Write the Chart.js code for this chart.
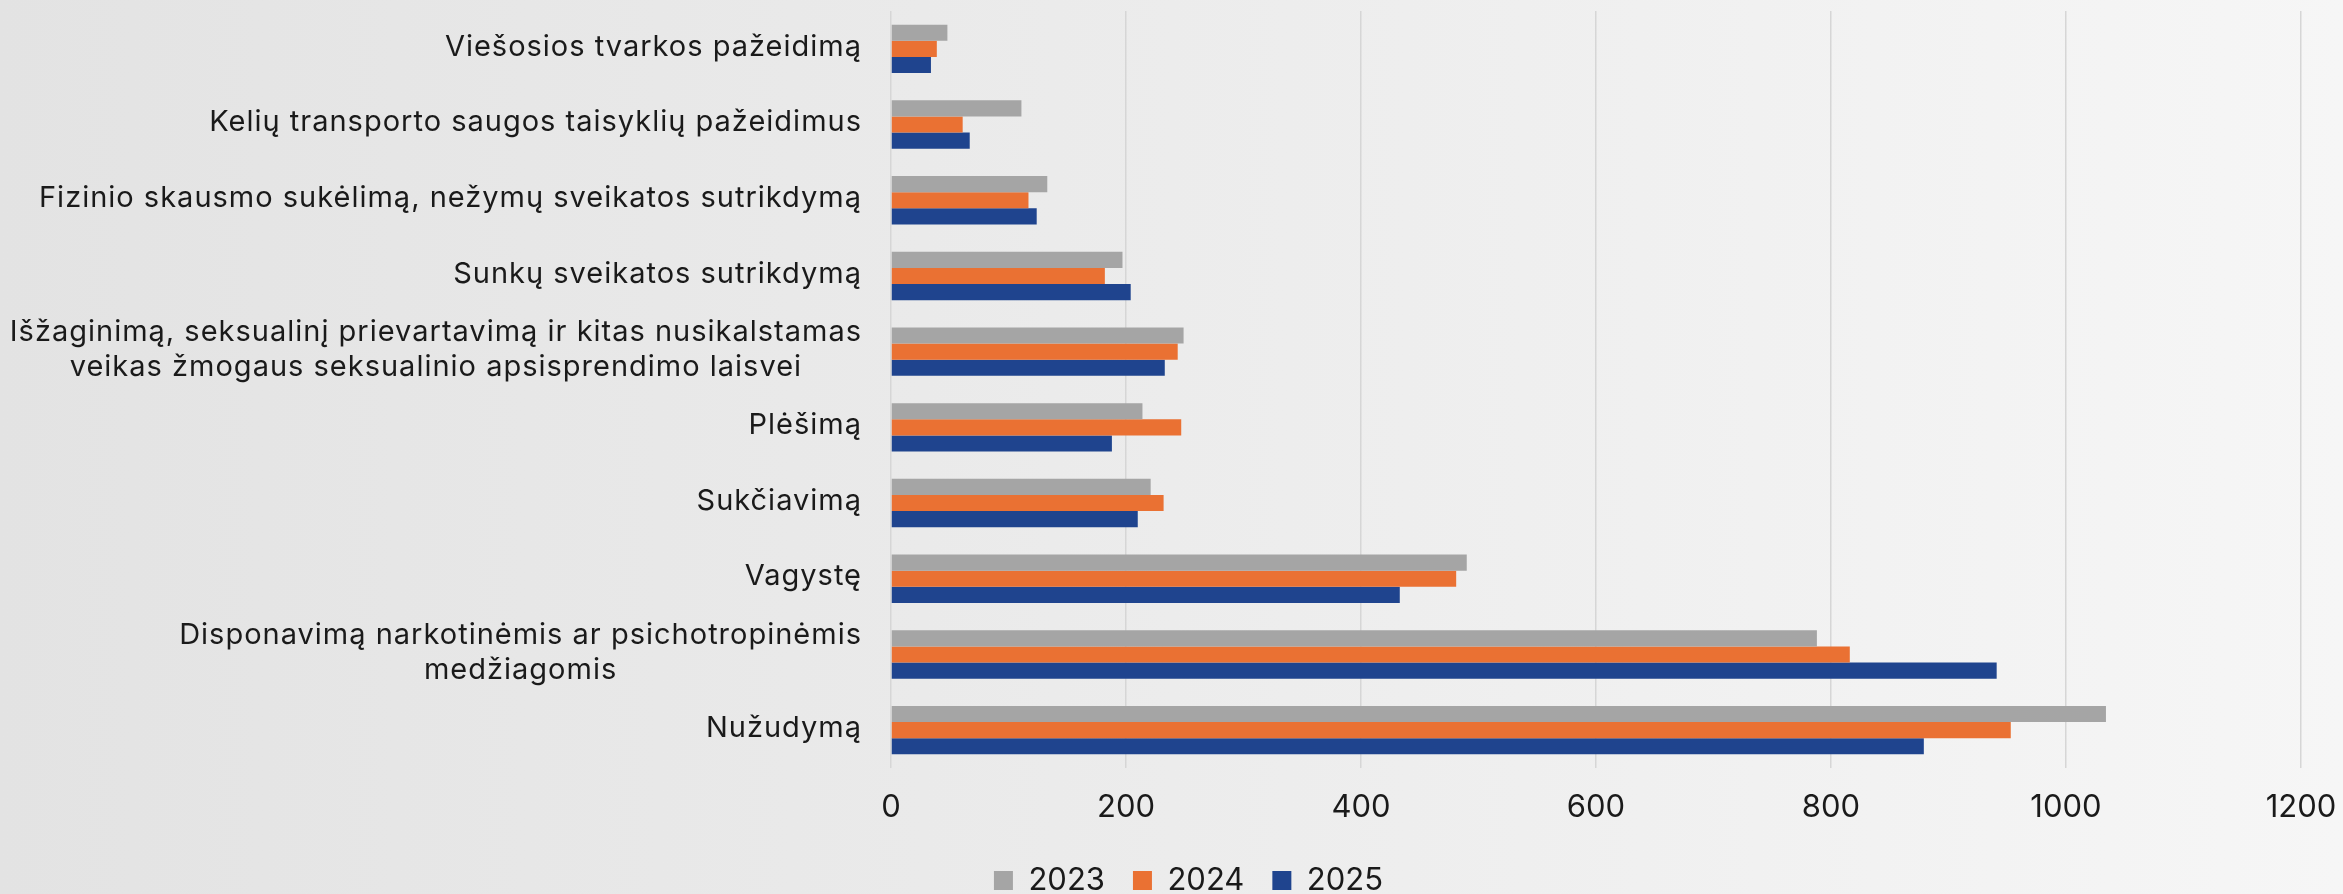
<!DOCTYPE html>
<html lang="lt">
<head>
<meta charset="utf-8">
<title>Nusikalstamos veikos</title>
<script src="https://cdn.jsdelivr.net/npm/chart.js@4"></script>
<style>
  html, body { margin: 0; padding: 0; }
  body {
    width: 2343px;
    height: 894px;
    overflow: hidden;
    background: linear-gradient(90deg, #e3e3e3 0%, #ebebeb 45%, #f6f6f6 100%);
  }
  #wrap { position: relative; width: 2343px; height: 894px; }
</style>
</head>
<body>
<div id="wrap"><canvas id="chart"></canvas></div>
<script>
// kategorijos, iš viršaus į apačią
const categories = [
  "Viešosios tvarkos pažeidimą",
  "Kelių transporto saugos taisyklių pažeidimus",
  "Fizinio skausmo sukėlimą, nežymų sveikatos sutrikdymą",
  "Sunkų sveikatos sutrikdymą",
  ["Išžaginimą, seksualinį prievartavimą ir kitas nusikalstamas", "veikas žmogaus seksualinio apsisprendimo laisvei"],
  "Plėšimą",
  "Sukčiavimą",
  "Vagystę",
  ["Disponavimą narkotinėmis ar psichotropinėmis", "medžiagomis"],
  "Nužudymą"
];
const years = ["2023", "2024", "2025"];
const values2023 = [48, 111, 133, 197, 249, 214, 221, 490, 788, 1034];
const values2024 = [39, 61, 117, 182, 244, 247, 232, 481, 816, 953];
const values2025 = [34, 67, 124, 204, 233, 188, 210, 433, 941, 879];
const xTicks = [0, 200, 400, 600, 800, 1000, 1200];

const fontFamily = "Inter, 'Noto Sans', sans-serif";
const textColor = "#1a1a1a";
const padLeft = 76;

// y ašies pavadinimai: dešinėje sulygiuoti, eilutės centruotos tarpusavyje
const yLabels = {
  id: "yLabels",
  afterDraw(chart) {
    const ctx = chart.ctx;
    const y = chart.scales.y;
    const right = chart.chartArea.left - 29;
    ctx.save();
    ctx.font = "29px " + fontFamily;
    ctx.letterSpacing = "1px";
    ctx.fillStyle = textColor;
    ctx.textAlign = "center";
    ctx.textBaseline = "middle";
    categories.forEach((label, i) => {
      const lines = Array.isArray(label) ? label : [label];
      const w = Math.max(...lines.map((l) => ctx.measureText(l).width));
      const cy = y.getPixelForValue(i) - 2;
      lines.forEach((line, j) => {
        ctx.fillText(line, right - w / 2, cy + (j - (lines.length - 1) / 2) * 35);
      });
    });
    ctx.restore();
  }
};

const ctx = document.getElementById("chart").getContext("2d");
const chart = new Chart(ctx, {
  type: "bar",
  data: {
    labels: categories,
    datasets: [
      { label: years[0], data: values2023, backgroundColor: "#a5a5a5" },
      { label: years[1], data: values2024, backgroundColor: "#ea7133" },
      { label: years[2], data: values2025, backgroundColor: "#1f448e" }
    ]
  },
  options: {
    indexAxis: "y",
    responsive: true,
    maintainAspectRatio: false,
    animation: false,
    datasets: {
      bar: { categoryPercentage: 0.64, barPercentage: 1.0 }
    },
    layout: { padding: { top: 11, right: 42, left: padLeft, bottom: -12 } },
    scales: {
      x: {
        min: 0,
        max: 1200,
        afterBuildTicks(scale) {
          scale.ticks = xTicks.map((v) => ({ value: v }));
        },
        afterFit(scale) {
          scale.height = 69;
          scale.paddingRight = 0;
          scale.paddingLeft = 0;
        },
        ticks: {
          color: textColor,
          font: { family: fontFamily, size: 31 },
          padding: 21,
          callback: (v) => String(v)
        },
        grid: { color: "#d6d6d6", lineWidth: 1.5, drawTicks: false },
        border: { display: false }
      },
      y: {
        grid: { display: false },
        border: { display: false },
        ticks: { display: false },
        afterFit(scale) {
          scale.width = 891 - padLeft;
        }
      }
    },
    plugins: {
      legend: {
        position: "bottom",
        labels: {
          boxWidth: 19,
          boxHeight: 19,
          padding: 28,
          color: textColor,
          font: { family: fontFamily, size: 31 }
        }
      },
      tooltip: { enabled: false }
    }
  },
  plugins: [yLabels]
});
</script>
</body>
</html>
